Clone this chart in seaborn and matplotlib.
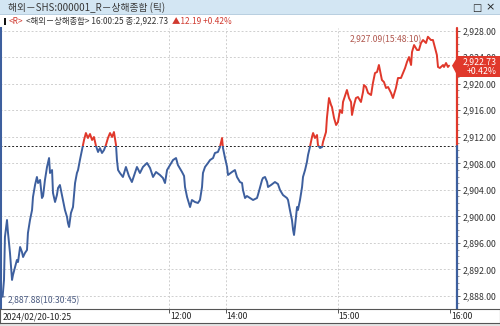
import numpy as np
import pandas as pd
import matplotlib
matplotlib.use("Agg")
import matplotlib.pyplot as plt
import matplotlib.transforms as mtrans
from matplotlib.patches import Rectangle, Polygon
from matplotlib.ticker import MultipleLocator, FixedLocator, FuncFormatter
import seaborn as sns

# ---------------- data ----------------
title = "해외－SHS:000001_R－상해종합 (틱)"
sub_tag = "<R>"
sub_name = "<해외－상해종합>"
last_time = "16:00:25"
start_label = "2024/02/20-10:25"
prev_close = 2910.54
last_price = 2922.73
change = 12.19
change_pct = 0.42
high_price, high_time = 2927.09, "15:48:10"
low_price, low_time = 2887.88, "10:30:45"
y_ticks = [2888, 2892, 2896, 2900, 2904, 2908, 2912, 2916, 2920, 2924, 2928]
x_tick_times = ["12:00", "14:00", "15:00", "16:00"]
grid_times = ["12:00", "14:00", "15:00"]

# elapsed trading minutes (10:30-12:30 -> 0-120, 14:00-16:00 -> 120-240)
session_min = [
    0.75, 1.5, 2.0, 3.1, 3.6, 4.7, 5.8, 6.3, 7.4, 8.4, 9.0, 10.1, 11.1, 11.7, 12.7, 13.8,
    14.3, 15.4, 16.5, 17.0, 18.1, 19.1, 19.7, 20.8, 21.8, 22.4, 23.4, 24.5, 25.0, 25.6,
    26.1, 27.2, 27.7, 28.8, 29.8, 30.4, 31.4, 32.5, 33.1, 34.1, 35.2, 35.7, 36.3, 37.3,
    38.4, 39.5, 40.5, 41.1, 42.1, 43.2, 44.3, 45.3, 46.4, 47.5, 48.6, 49.6, 50.7, 51.8,
    52.8, 53.9, 55.0, 56.0, 57.1, 58.2, 59.3, 60.3, 61.4, 61.9, 62.5, 63.5, 65.1, 66.7,
    68.3, 69.9, 71.0, 72.6, 74.2, 75.8, 78.0, 79.6, 81.2, 82.8, 84.9, 86.5, 87.6, 88.7,
    90.3, 91.9, 93.5, 94.5, 96.7, 97.8, 98.3, 99.4, 101.0, 102.0, 103.6, 105.2, 106.3,
    107.4, 107.9, 109.0, 110.6, 111.7, 113.3, 114.3, 115.9, 117.0, 118.1, 118.6, 119.7,
    120.8, 121.3, 123.4, 125.0, 126.1, 127.7, 128.8, 129.3, 130.4, 131.4, 133.1, 134.7,
    136.8, 137.3, 139.5, 140.0, 141.1, 142.2, 142.7, 144.3, 146.4, 148.0, 149.1, 150.7,
    152.8, 153.4, 154.4, 155.5, 156.1, 156.6, 157.1, 158.2, 158.7, 159.8, 160.9, 161.4,
    162.5, 163.5, 164.1, 165.1, 166.2, 166.8, 167.8, 168.9, 169.4, 170.5, 171.6, 172.1,
    173.7, 174.2, 175.3, 176.4, 176.9, 178.0, 179.1, 180.1, 181.2, 182.3, 182.8, 184.4,
    184.9, 186.0, 187.1, 187.6, 188.7, 189.7, 190.8, 192.4, 193.5, 194.0, 195.1, 196.2,
    197.8, 198.8, 199.9, 201.0, 202.0, 203.6, 204.7, 205.8, 206.9, 208.5, 209.5, 211.1,
    212.2, 213.8, 214.9, 216.0, 217.0, 218.1, 219.2, 219.7, 220.8, 222.4, 223.4, 224.5,
    225.6, 227.2, 228.2, 229.8, 230.9, 232.0, 233.0, 233.6, 234.6, 236.3, 236.8, 237.9,
    238.9, 239.5,
]
price = [
    2887.88, 2890.41, 2896.89, 2899.45, 2897.64, 2894.48, 2890.41, 2891.16, 2892.37,
    2893.42, 2893.12, 2895.38, 2894.63, 2893.87, 2894.48, 2894.93, 2897.49, 2899.45,
    2900.96, 2902.92, 2904.73, 2905.94, 2905.03, 2905.49, 2902.77, 2903.07, 2905.49,
    2907.45, 2908.05, 2908.80, 2906.54, 2906.99, 2903.53, 2902.17, 2903.22, 2904.28,
    2904.73, 2903.22, 2902.47, 2900.96, 2899.91, 2899.00, 2898.40, 2900.51, 2901.41,
    2905.03, 2906.54, 2906.99, 2908.50, 2910.01, 2911.52, 2912.57, 2911.82, 2912.42,
    2911.52, 2911.97, 2910.61, 2909.71, 2910.31, 2909.56, 2910.01, 2910.76, 2911.82,
    2912.57, 2911.97, 2912.72, 2910.76, 2908.50, 2906.99, 2906.54, 2905.94, 2907.45,
    2906.09, 2905.18, 2906.09, 2907.45, 2906.54, 2907.45, 2908.05, 2907.30, 2905.94,
    2906.69, 2906.24, 2905.79, 2905.03, 2906.99, 2907.75, 2908.50, 2908.80, 2907.75,
    2906.69, 2906.09, 2904.43, 2902.92, 2901.41, 2902.47, 2902.17, 2902.02, 2902.47,
    2904.43, 2906.54, 2907.45, 2908.05, 2908.50, 2908.80, 2909.56, 2909.71, 2910.46,
    2911.82, 2910.31, 2908.80, 2907.45, 2906.24, 2906.69, 2906.99, 2905.94, 2905.18,
    2905.03, 2903.98, 2902.77, 2903.07, 2902.77, 2902.47, 2902.77, 2903.22, 2905.49,
    2905.79, 2905.94, 2905.18, 2904.43, 2904.73, 2905.18, 2904.88, 2903.98, 2903.22,
    2902.77, 2902.47, 2900.96, 2899.45, 2897.95, 2897.19, 2898.40, 2901.41, 2900.96,
    2902.47, 2904.43, 2905.94, 2906.99, 2908.20, 2909.26, 2910.46, 2911.97, 2912.57,
    2911.82, 2912.27, 2910.76, 2910.31, 2910.46, 2911.22, 2912.72, 2914.84, 2917.85,
    2916.80, 2916.49, 2914.84, 2913.78, 2914.23, 2916.04, 2915.59, 2917.25, 2918.61,
    2919.06, 2917.85, 2917.25, 2915.29, 2916.80, 2917.85, 2918.00, 2917.25, 2918.76,
    2919.81, 2919.51, 2918.61, 2918.30, 2920.11, 2921.62, 2921.77, 2922.83, 2920.57,
    2920.26, 2919.36, 2919.51, 2918.61, 2917.85, 2919.36, 2920.87, 2920.87, 2921.62,
    2922.38, 2923.28, 2924.03, 2922.83, 2924.79, 2925.84, 2925.09, 2925.09, 2926.15,
    2926.60, 2926.15, 2927.09, 2926.60, 2926.60, 2925.39, 2924.34, 2922.53, 2922.38,
    2922.83, 2922.53, 2923.13, 2922.53, 2922.73,
]


def to_session(t):
    parts = [int(p) for p in t.split(":")]
    mins = parts[0] * 60 + parts[1] + (parts[2] / 60 if len(parts) > 2 else 0)
    if mins <= 12 * 60 + 30:
        return mins - (10 * 60 + 30)
    return 120 + mins - 14 * 60


# ---------------- style ----------------
sns.set_style("white")
plt.rcParams["font.family"] = ["Noto Sans CJK KR", "DejaVu Sans"]

BLUE = "#3d5f9e"
RED = "#e0382b"
GRID = "#cfcfcf"

W, H = 500, 326
fig = plt.figure(figsize=(W / 100, H / 100), dpi=100, facecolor="white")
renderer = fig.canvas.get_renderer()


def fx(x):
    return x / W


def fy(y):
    return 1 - y / H


# window chrome
fig.add_artist(Rectangle((0, fy(14)), 1, 14 / H, transform=fig.transFigure,
                         fc="#d3e6f3", ec="none", zorder=0))
fig.add_artist(Rectangle((0, fy(15)), 1, 1 / H, transform=fig.transFigure,
                         fc="#b9cfe0", ec="none", zorder=0))
fig.text(fx(8), fy(7.5), title, fontsize=7.0, color="#3a3a3a", va="center", ha="left")
fig.text(fx(477), fy(7.5), "□", fontsize=7, color="#222", va="center", ha="center",
         family=["DejaVu Sans"])
fig.text(fx(490), fy(7.5), "×", fontsize=8, color="#222", va="center", ha="center",
         family=["DejaVu Sans"])

# subtitle row (pieces chained one after another)
fig.add_artist(Rectangle((fx(4), fy(25)), 2 / W, 7 / H, transform=fig.transFigure,
                         fc="#111", ec="none"))
pieces = [
    (sub_tag, "#d03a30"),
    (f"{sub_name} {last_time} 종:{last_price:,.2f}", "#333"),
    (f"▲{change:.2f} +{change_pct:.2f}%", "#d03a30"),
]
cur_x = 9.0
for txt, col in pieces:
    t = fig.text(fx(cur_x), fy(21), txt, fontsize=6.0, color=col, va="center", ha="left")
    bb = t.get_window_extent(renderer=renderer)
    cur_x += bb.width + 3

# ---------------- main axes ----------------
ax = fig.add_axes([0, fy(309), 457 / W, (309 - 28) / H])
xmin, xmax = -0.64, 243.76
ymin, ymax = 2886.03, 2928.41
ax.set_xlim(xmin, xmax)
ax.set_ylim(ymin, ymax)

df = pd.DataFrame({"minute": session_min, "price": price})
sns.lineplot(data=df, x="minute", y="price", ax=ax, color=BLUE, lw=1.4,
             estimator=None, sort=False, zorder=3)
sns.lineplot(data=df, x="minute", y="price", ax=ax, color=RED, lw=1.4,
             estimator=None, sort=False, zorder=3)
blue_line, red_line = ax.get_lines()[0], ax.get_lines()[1]
blue_line.set_clip_path(Rectangle((xmin, ymin), xmax - xmin, prev_close - ymin,
                                  transform=ax.transData))
red_line.set_clip_path(Rectangle((xmin, prev_close), xmax - xmin, ymax - prev_close,
                                 transform=ax.transData))

# grid
for v in y_ticks:
    ax.axhline(v, color=GRID, lw=0.7, ls=(0, (2, 2)), zorder=1)
for t in grid_times:
    ax.axvline(to_session(t), color=GRID, lw=0.7, ls=(0, (2, 2)), zorder=1)
ax.axhline(prev_close, color="#222", lw=0.7, ls=(0, (2, 2)), zorder=2)

# spines
for s in ["top", "bottom", "right"]:
    ax.spines[s].set_visible(False)
ax.spines["left"].set_color(BLUE)
ax.spines["left"].set_linewidth(2.2)
ax.plot([xmax, xmax], [prev_close, ymax], color=RED, lw=1.6, clip_on=False, zorder=5)
ax.plot([xmax, xmax], [ymin, prev_close], color=BLUE, lw=1.6, clip_on=False, zorder=5)

ax.set_xticks([])
ax.set_xlabel("")
ax.set_ylabel("")
ax.yaxis.tick_right()
ax.yaxis.set_major_locator(FixedLocator(y_ticks))
ax.yaxis.set_minor_locator(MultipleLocator(1))
ax.yaxis.set_major_formatter(FuncFormatter(lambda v, p: f"{v:,.2f}"))
ax.tick_params(axis="y", which="major", direction="out", length=2.5, width=0.6,
               colors="#444", labelsize=6.3, pad=1.5, labelcolor="#333")
ax.tick_params(axis="y", which="minor", direction="out", length=1.3, width=0.5,
               colors="#777")

# high / low labels
ax.annotate(f"{high_price:,.2f}({high_time})", xy=(to_session(high_time), high_price),
            xytext=(-4, -2), textcoords="offset points", ha="right", va="center",
            fontsize=6.2, color="#b0574e", zorder=6)
ax.annotate(f"{low_price:,.2f}({low_time})", xy=(to_session(low_time), low_price),
            xytext=(4, -3), textcoords="offset points", ha="left", va="center",
            fontsize=6.2, color="#4a5a80", zorder=6,
            arrowprops=dict(arrowstyle="-", lw=0.6, color="#4a5a80", shrinkA=0, shrinkB=0))

# current price tag
y_last = ax.transData.transform((xmax, last_price))[1]
tag_y = H - y_last  # pixel y from top
tag = Polygon([(fx(452), fy(tag_y)), (fx(458), fy(56)), (fx(500), fy(56)),
               (fx(500), fy(77)), (fx(458), fy(77))], closed=True,
              transform=fig.transFigure, fc=RED, ec="none", zorder=10)
fig.add_artist(tag)
fig.text(fx(497), fy(61.5), f"{last_price:,.2f}", fontsize=6.3, color="white",
         ha="right", va="center", zorder=11)
fig.text(fx(497), fy(71.5), f"+{change_pct:.2f}%", fontsize=6.3, color="white",
         ha="right", va="center", zorder=11)

# ---------------- time band ----------------
band = fig.add_axes([0, fy(323), 1, 14 / H])
band.set_xlim(xmin, (W - 1.2) * 0.5348)
band.set_ylim(0, 1)
band.set_yticks([])
band.set_facecolor("white")
for s in band.spines.values():
    s.set_color("#555")
    s.set_linewidth(0.8)
tick_pos = [to_session(t) for t in x_tick_times]
band.set_xticks(tick_pos)
band.set_xticklabels([])
band.tick_params(axis="x", bottom=False, top=True, direction="in", length=3,
                 width=0.7, colors="#555")
lbl_tr = mtrans.offset_copy(band.get_xaxis_transform(), fig=fig, x=1, y=0, units="dots")
for pos, lab in zip(tick_pos, x_tick_times):
    band.text(pos, 0.45, lab, transform=lbl_tr, ha="left", va="center",
              fontsize=6.2, color="#222")
band.text(xmin, 0.45, start_label, transform=mtrans.offset_copy(
    band.get_xaxis_transform(), fig=fig, x=3, y=0, units="dots"),
    ha="left", va="center", fontsize=6.2, color="#222")

fig.add_artist(Rectangle((0, 0), 1, 3 / H, transform=fig.transFigure,
                         fc="#e4e4e4", ec="none", zorder=0))

fig.savefig("out.png", dpi=100, facecolor="white")
